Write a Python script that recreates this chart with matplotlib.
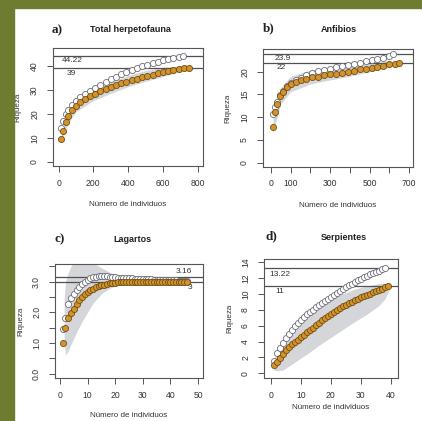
import matplotlib
matplotlib.use('Agg')
import matplotlib.pyplot as plt
from matplotlib.patches import Rectangle

# ---- data ----
# a) Total herpetofauna
a_obs_x = [15, 25, 40, 55, 75, 100, 125, 150, 180, 210, 240, 270, 300, 330, 360,
           390, 420, 450, 480, 510, 540, 570, 600, 630, 660, 690, 720, 750]
a_obs_y = [9.5, 12.8, 16.5, 19.0, 21.5, 23.3, 24.8, 26.0, 27.3, 28.4, 29.3, 30.2, 31.0, 31.8, 32.6,
           33.3, 34.0, 34.6, 35.2, 35.8, 36.3, 36.8, 37.3, 37.8, 38.2, 38.6, 38.9, 39.0]
a_est_x = [15, 25, 40, 55, 75, 100, 125, 150, 180, 210, 240, 270, 300, 330, 360,
           390, 420, 450, 480, 510, 540, 570, 600, 630, 660, 690, 715]
a_est_y = [14.0, 17.0, 19.8, 21.6, 23.5, 25.3, 26.9, 28.2, 29.6, 30.9, 32.1, 33.3, 34.4, 35.4, 36.5,
           37.3, 38.2, 39.0, 39.7, 40.4, 41.0, 41.6, 42.2, 42.8, 43.3, 43.8, 44.22]
a_ci_x = [15, 50, 100, 200, 300, 400, 500, 600, 700, 750]
a_ci_lo = [7.5, 15.5, 20.8, 25.5, 28.5, 31.3, 33.5, 35.5, 37.5, 39.0]
a_ci_hi = [11.5, 20.5, 25.8, 30.0, 33.2, 36.0, 38.0, 39.3, 40.0, 39.0]
a_lines = [44.22, 39]

# b) Anfibios
b_est_x = [10, 20, 30, 45, 60, 80, 100, 125, 150, 180, 210, 240, 270, 300, 330,
           360, 390, 420, 450, 480, 510, 540, 570, 600, 620]
b_est_y = [10.8, 12.3, 13.4, 14.8, 15.8, 16.9, 17.6, 18.2, 18.7, 19.3, 19.7, 20.1, 20.4, 20.7, 21.0,
           21.3, 21.5, 21.8, 22.0, 22.3, 22.5, 22.8, 23.1, 23.5, 23.9]
b_obs_x = [10, 20, 30, 45, 60, 80, 100, 125, 150, 180, 210, 240, 270, 300, 330,
           360, 390, 420, 450, 480, 510, 540, 570, 600, 630, 650]
b_obs_y = [7.9, 11.2, 13.0, 14.6, 15.6, 16.6, 17.3, 17.8, 18.2, 18.5, 18.8, 18.9, 19.2, 19.4, 19.6,
           19.8, 20.0, 20.2, 20.5, 20.7, 20.9, 21.1, 21.3, 21.6, 21.8, 22.0]
b_ci_x = [10, 50, 100, 200, 300, 400, 500, 600, 650]
b_ci_lo = [6.5, 13.0, 15.6, 17.3, 18.2, 19.0, 20.0, 21.0, 22.0]
b_ci_hi = [9.5, 16.5, 19.0, 20.4, 20.8, 21.2, 21.8, 22.4, 22.0]
b_lines = [23.9, 22]

# c) Lagartos
c_x = list(range(1, 47))
c_est_y = [1.45, 1.80, 2.28, 2.45, 2.60, 2.72, 2.82, 2.92, 3.00, 3.06, 3.10, 3.14, 3.16, 3.18, 3.18,
           3.18, 3.17, 3.16, 3.15, 3.14, 3.13, 3.12, 3.11, 3.11, 3.10, 3.10, 3.09, 3.09, 3.08, 3.08,
           3.07, 3.07, 3.07, 3.06, 3.06, 3.06, 3.05, 3.05, 3.05, 3.04, 3.04, 3.04, 3.03, 3.03, 3.03, 3.03]
c_obs_y = [1.00, 1.50, 1.82, 1.98, 2.12, 2.26, 2.40, 2.50, 2.59, 2.66, 2.72, 2.77, 2.82, 2.86, 2.88,
           2.90, 2.92, 2.94, 2.95, 2.96, 2.97, 2.97, 2.98, 2.98, 2.98, 2.99, 2.99, 2.99, 2.99, 2.99,
           3.0, 3.0, 3.0, 3.0, 3.0, 3.0, 3.0, 3.0, 3.0, 3.0, 3.0, 3.0, 3.0, 3.0, 3.0, 3.0]
c_ci_x = [1.5, 2, 3, 4, 5, 6, 8, 10, 12, 15, 18, 21, 25, 30, 35]
c_ci_lo = [1.2, 0.6, 0.75, 0.95, 1.15, 1.35, 1.7, 2.0, 2.3, 2.6, 2.78, 2.88, 2.95, 2.98, 3.0]
c_ci_hi = [2.4, 3.0, 3.3, 3.5, 3.62, 3.7, 3.75, 3.7, 3.6, 3.45, 3.3, 3.2, 3.1, 3.04, 3.0]
c_lines = [3.16, 3]

# d) Serpientes
d_est_x = list(range(1, 39))
d_est_y = [1.6, 2.5, 3.2, 3.85, 4.4, 4.95, 5.45, 5.95, 6.35, 6.75, 7.1, 7.45, 7.75, 8.0, 8.3,
           8.6, 8.9, 9.15, 9.4, 9.65, 9.9, 10.15, 10.4, 10.65, 10.9, 11.1, 11.3, 11.5, 11.7, 11.9,
           12.1, 12.3, 12.5, 12.65, 12.8, 12.95, 13.1, 13.22]
d_obs_x = list(range(1, 40))
d_obs_y = [1.0, 1.45, 1.95, 2.45, 2.9, 3.3, 3.65, 3.95, 4.25, 4.55, 4.85, 5.15, 5.45, 5.75, 6.05,
           6.35, 6.65, 6.92, 7.2, 7.45, 7.7, 7.95, 8.2, 8.42, 8.62, 8.82, 9.02, 9.2, 9.38, 9.55,
           9.72, 9.88, 10.03, 10.18, 10.33, 10.48, 10.64, 10.82, 11.0]
d_ci_x = [0.5, 1, 2, 4, 8, 12, 16, 20, 24, 28, 32, 36, 38, 39.5, 40]
d_ci_lo = [1.0, 0.4, 0.3, 0.4, 1.4, 2.4, 3.5, 4.5, 5.5, 6.5, 7.4, 8.5, 9.3, 10.4, 11.0]
d_ci_hi = [1.0, 1.8, 2.6, 3.9, 5.8, 7.3, 8.4, 9.3, 10.0, 10.6, 11.0, 11.3, 11.35, 11.2, 11.0]
d_lines = [13.22, 11]

W, H = 422, 421
sans = 'Liberation Sans'
GREEN = '#6e7c32'
OBS_FACE, OBS_EDGE = '#d4922a', '#6e4e14'
EST_EDGE = '#6c6c78'
BAND = '#d4d6da'
LINE = '#505050'
TXT = '#333333'

fig = plt.figure(figsize=(W / 100, H / 100), dpi=100)
fig.patch.set_facecolor('white')
fig.patches.append(Rectangle((0, 0), 14 / W, 1, transform=fig.transFigure, color=GREEN, zorder=0))
fig.patches.append(Rectangle((0, 1 - 8 / H), 1, 8 / H, transform=fig.transFigure, color=GREEN, zorder=0))


def px_axes(x0, y0, x1, y1):
    return fig.add_axes([x0 / W, 1 - y1 / H, (x1 - x0) / W, (y1 - y0) / H])


def panel(ax, est, obs, ci, lines, xlim, ylim, xticks, xlabels, yticks, ylabels):
    ax.fill_between(ci[0], ci[1], ci[2], color=BAND, lw=0, zorder=1)
    for v in lines:
        ax.axhline(v, color=LINE, lw=0.9, zorder=2)
    ax.plot(est[0], est[1], 'o', ms=4.4, mfc='white', mec=EST_EDGE, mew=0.6, zorder=3)
    ax.plot(obs[0], obs[1], 'o', ms=4.4, mfc=OBS_FACE, mec=OBS_EDGE, mew=0.6, zorder=4)
    ax.set_xlim(*xlim)
    ax.set_ylim(*ylim)
    ax.set_xticks(xticks)
    ax.set_xticklabels(xlabels)
    ax.set_yticks(yticks)
    ax.set_yticklabels(ylabels, rotation=90, va='center')
    ax.tick_params(direction='out', length=4, width=0.7, color='#555555',
                   labelsize=6.2, labelcolor=TXT)
    ax.tick_params(axis='x', pad=5)
    ax.tick_params(axis='y', pad=6)
    for t in ax.get_xticklabels() + ax.get_yticklabels():
        t.set_fontfamily(sans)
    for s in ax.spines.values():
        s.set_color('#555555')
        s.set_linewidth(0.8)
    ax.set_xlabel('Número de individuos', fontsize=5.8, color=TXT, family=sans)
    ax.set_ylabel('Riqueza', fontsize=5.8, color=TXT, family=sans)


def label(ax, x, y, s, va):
    ax.text(x, y, s, ha='center', va=va, fontsize=6, family=sans, color=TXT, zorder=6)


# a)
ax = px_axes(53, 48, 203, 166)
panel(ax, (a_est_x, a_est_y), (a_obs_x, a_obs_y), (a_ci_x, a_ci_lo, a_ci_hi), a_lines,
      (-32, 830), (-1.8, 47.4), [0, 200, 400, 600, 800], ['0', '200', '400', '600', '800'],
      [0, 10, 20, 30, 40], ['0', '10', '20', '30', '40'])
label(ax, 80, 44.22 - 0.6, '44.22', 'top')
label(ax, 75, 39 - 0.6, '39', 'top')
ax.xaxis.set_label_coords(0.5, -0.30)
ax.yaxis.set_label_coords(-0.21, 0.5)

# b)
ax = px_axes(263, 49, 413, 167)
panel(ax, (b_est_x, b_est_y), (b_obs_x, b_obs_y), (b_ci_x, b_ci_lo, b_ci_hi), b_lines,
      (-40, 720), (-0.95, 25.0), [0, 100, 200, 300, 400, 500, 600, 700],
      ['0', '100', '', '300', '', '500', '', '700'],
      [0, 5, 10, 15, 20], ['0', '5', '10', '15', '20'])
label(ax, 60, 23.9 - 0.3, '23.9', 'top')
label(ax, 52, 22 - 0.3, '22', 'top')
ax.xaxis.set_label_coords(0.5, -0.30)
ax.yaxis.set_label_coords(-0.21, 0.5)

# c)
ax = px_axes(55, 264, 203, 378)
panel(ax, (c_x, c_est_y), (c_x, c_obs_y), (c_ci_x, c_ci_lo, c_ci_hi), c_lines,
      (-1.8, 51.8), (-0.14, 3.57), [0, 10, 20, 30, 40, 50], ['0', '10', '20', '30', '40', '50'],
      [0, 0.5, 1, 1.5, 2, 2.5, 3, 3.5], ['0.0', '', '1.0', '', '2.0', '', '3.0', ''])
label(ax, 45, 3.16 + 0.05, '3.16', 'bottom')
label(ax, 47.2, 2.93, '3', 'top')
ax.xaxis.set_label_coords(0.5, -0.30)
ax.yaxis.set_label_coords(-0.21, 0.5)

# d)
ax = px_axes(264, 259, 398, 378)
panel(ax, (d_est_x, d_est_y), (d_obs_x, d_obs_y), (d_ci_x, d_ci_lo, d_ci_hi), d_lines,
      (-2.3, 42.5), (-0.6, 14.4), [0, 10, 20, 30, 40], ['0', '10', '20', '30', '40'],
      [0, 2, 4, 6, 8, 10, 12, 14], ['0', '2', '4', '6', '8', '10', '12', '14'])
label(ax, 3, 13.22 - 0.3, '13.22', 'top')
label(ax, 3, 11 - 0.3, '11', 'top')
ax.xaxis.set_label_coords(0.5, -0.22)
ax.yaxis.set_label_coords(-0.23, 0.5)

# panel titles
titles = [('a)', 57, 30, 'Total herpetofauna', 130, 30),
          ('b)', 269, 28, 'Anfibios', 339, 29),
          ('c)', 60, 239, 'Lagartos', 132, 239),
          ('d)', 271, 236, 'Serpientes', 344, 237)]
for lab, lx, ly, name, tx, ty in titles:
    fig.text(lx / W, 1 - ly / H, lab, fontsize=9.5, fontweight='bold', family='Liberation Serif',
             ha='center', va='center', color='#222222')
    fig.text(tx / W, 1 - ty / H, name, fontsize=6.5, fontweight='bold', family=sans,
             ha='center', va='center', color='#222222')

fig.savefig('out.png', dpi=100)
